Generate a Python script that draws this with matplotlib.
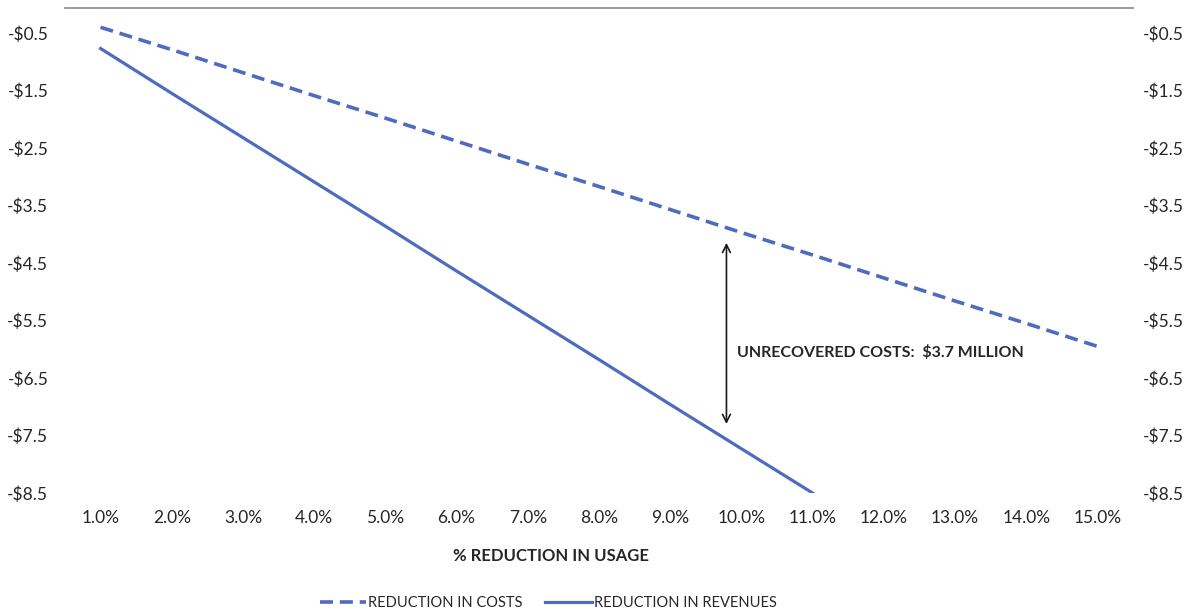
import matplotlib
matplotlib.use("Agg")
import matplotlib.pyplot as plt

# Percent reduction in usage (category axis)
usage_pct = [1, 2, 3, 4, 5, 6, 7, 8, 9, 10, 11, 12, 13, 14, 15]
usage_labels = [f"{p:.1f}%" for p in usage_pct]

# Reduction in costs ($ million) for each usage step
cost_reduction = [-0.40, -0.79, -1.19, -1.59, -1.98, -2.38, -2.78, -3.17,
                  -3.57, -3.97, -4.36, -4.76, -5.16, -5.55, -5.95]

# Reduction in revenues ($ million), shown up to 11%
revenue_pct = [1, 2, 3, 4, 5, 6, 7, 8, 9, 10, 11]
revenue_reduction = [-0.77, -1.55, -2.32, -3.09, -3.86, -4.64, -5.41,
                     -6.18, -6.96, -7.73, -8.50]

# Gap highlighted at ~10% reduction
gap_x = 9.79
gap_top = -4.15
gap_bottom = -7.30
gap_label = "UNRECOVERED COSTS:  $3.7 MILLION"

y_ticks = [-0.5, -1.5, -2.5, -3.5, -4.5, -5.5, -6.5, -7.5, -8.5]
y_labels = [f"-${abs(v):.1f}" for v in y_ticks]

plt.rcParams['font.family'] = ['Lato', 'DejaVu Sans']
line_color = '#4f6bbf'
text_color = '#262626'

fig = plt.figure(figsize=(12.01, 6.16), dpi=100)
ax = fig.add_axes([65 / 1201, 1 - 493 / 616, (1133 - 65) / 1201, (493 - 8) / 616])

ax.plot(usage_pct, cost_reduction, color=line_color, lw=2.6,
        linestyle=(0, (3.6, 1.9)), label="REDUCTION IN COSTS")
ax.plot(revenue_pct, revenue_reduction, color=line_color, lw=2.3,
        label="REDUCTION IN REVENUES")

ax.annotate("", xy=(gap_x, gap_top), xytext=(gap_x, gap_bottom),
            arrowprops=dict(arrowstyle="<->", color='#1a1a1a', lw=1.2,
                            mutation_scale=14, shrinkA=0, shrinkB=0))
ax.text(gap_x + 0.15, -6.05, gap_label, fontsize=11.5, fontweight='bold',
        color=text_color, va='center', ha='left')

ax.set_xlim(0.5, 15.5)
ax.set_ylim(-8.5, -0.065)
ax.set_xticks(usage_pct)
ax.set_xticklabels(usage_labels, fontsize=12.5, color=text_color)
ax.set_yticks(y_ticks)
ax.set_yticklabels(y_labels, fontsize=12.5, color=text_color)
ax.tick_params(axis='both', length=0)
ax.tick_params(axis='x', pad=12)
ax.tick_params(axis='y', pad=12)

for side in ['left', 'right', 'bottom']:
    ax.spines[side].set_visible(False)
ax.spines['top'].set_color('#9a9a9a')
ax.spines['top'].set_linewidth(1.4)

ax2 = ax.twinx()
ax2.set_ylim(ax.get_ylim())
ax2.set_yticks(y_ticks)
ax2.set_yticklabels(y_labels, fontsize=12.5, color=text_color)
ax2.tick_params(axis='y', length=0, pad=7)
for side in ['left', 'right', 'bottom', 'top']:
    ax2.spines[side].set_visible(False)

ax.set_xlabel("% REDUCTION IN USAGE", fontsize=12, fontweight='bold',
              color=text_color)
ax.xaxis.set_label_coords((551 - 65) / (1133 - 65), -(556 - 493) / (493 - 8))
ax.xaxis.label.set_va('center')

leg = fig.legend(loc='center', bbox_to_anchor=(548 / 1201, 1 - 603 / 616),
                 ncol=2, frameon=False, fontsize=10.5, handlelength=3.2,
                 handletextpad=0.1, columnspacing=1.6)
for t in leg.get_texts():
    t.set_color(text_color)

fig.savefig("out.png", dpi=100, facecolor='white')
